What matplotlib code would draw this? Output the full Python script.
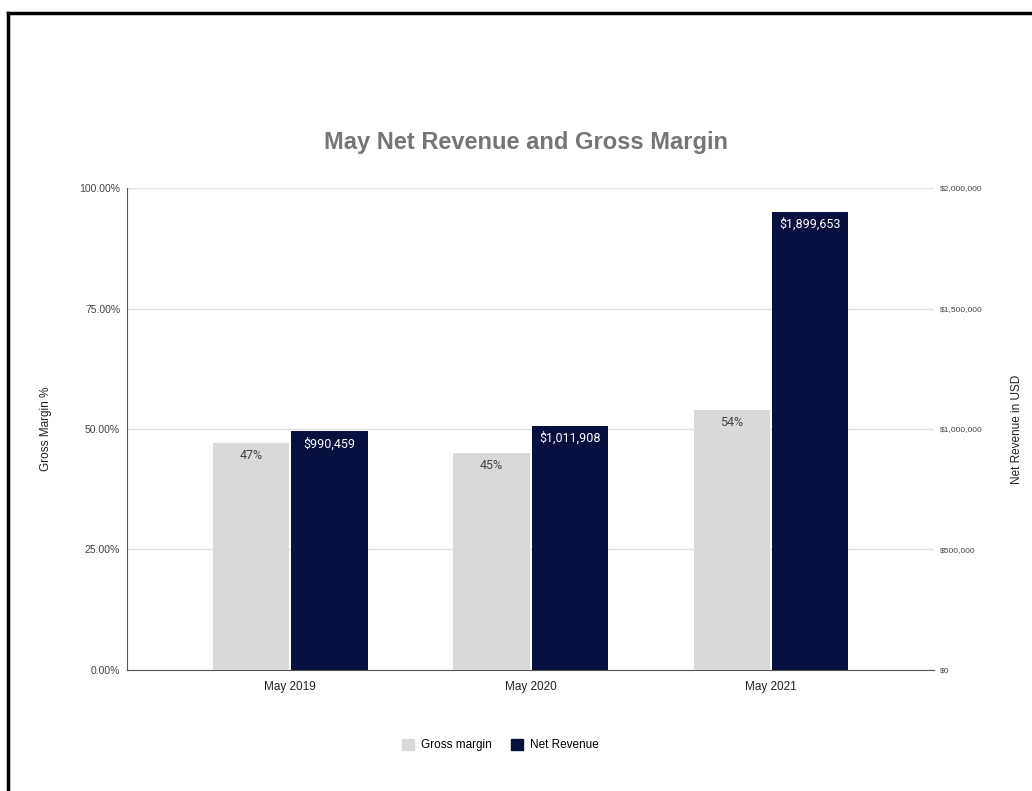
import matplotlib.pyplot as plt
from matplotlib.ticker import FuncFormatter
from matplotlib.patches import Rectangle

plt.rcParams['font.family'] = ['Liberation Sans', 'DejaVu Sans']

months = ["May 2019", "May 2020", "May 2021"]
gross_margin = [0.47, 0.45, 0.54]
net_revenue = [990459, 1011908, 1899653]

gray = '#d9d9d9'
navy = '#08103f'

fig = plt.figure(figsize=(10.32, 7.91), dpi=100)
ax = fig.add_axes([0.1231, 0.1530, 0.7820, 0.6093])
ax2 = ax.twinx()

x = list(range(len(months)))
w = 0.318
off = 0.163

gm_bars = ax.bar([i - off for i in x], gross_margin, width=w, color=gray, zorder=3, label='Gross margin')
nr_bars = ax2.bar([i + off for i in x], net_revenue, width=w, color=navy, zorder=3, label='Net Revenue')

ax.set_xlim(-0.678, 2.678)
ax.set_ylim(0, 1)
ax2.set_ylim(0, 2000000)
ax.set_yticks([0, 0.25, 0.5, 0.75, 1.0])
ax2.set_yticks([0, 500000, 1000000, 1500000, 2000000])
ax.yaxis.set_major_formatter(FuncFormatter(lambda v, p: f"{v*100:.2f}%"))
ax2.yaxis.set_major_formatter(FuncFormatter(lambda v, p: f"${v:,.0f}"))

ax.grid(axis='y', color='#e0e0e0', linewidth=1, zorder=0)
ax.set_axisbelow(True)
ax.set_xticks(x)
ax.set_xticklabels(months, fontsize=8.5, color='#222222')
ax.tick_params(axis='x', length=0, pad=8)
ax.tick_params(axis='y', length=0, labelsize=7.5, labelcolor='#444444', pad=5)
ax2.tick_params(axis='y', length=0, labelsize=6, labelcolor='#444444', pad=4)

for s in ['top', 'right']:
    ax.spines[s].set_visible(False)
for s in ['top', 'right', 'left', 'bottom']:
    ax2.spines[s].set_visible(False)
ax.spines['left'].set_color('#555555')
ax.spines['bottom'].set_color('#555555')

ax.set_ylabel('Gross Margin %', fontsize=8.5, color='#222222')
ax2.set_ylabel('Net Revenue in USD', fontsize=8.5, color='#222222')
ax.yaxis.set_label_coords(-0.093, 0.5)
ax2.yaxis.set_label_coords(1.095, 0.5)

for b, v in zip(gm_bars, gross_margin):
    ax.text(b.get_x() + b.get_width() / 2, v - 0.012, f"{v*100:.0f}%", ha='center', va='top',
            fontsize=9, color='#444444', family=['Roboto', 'DejaVu Sans'], zorder=4)
for b, v in zip(nr_bars, net_revenue):
    ax2.text(b.get_x() + b.get_width() / 2, v - 24000, f"${v:,.0f}", ha='center', va='top',
             fontsize=9, color='white', family=['Roboto', 'DejaVu Sans'], zorder=4)

fig.text(0.51, 0.82, 'May Net Revenue and Gross Margin', ha='center', va='center',
         fontsize=17, fontweight='bold', color='#757575')

handles = [Rectangle((0, 0), 1, 1, color=gray), Rectangle((0, 0), 1, 1, color=navy)]
fig.legend(handles, ['Gross margin', 'Net Revenue'], loc='center', bbox_to_anchor=(0.485, 0.058),
           ncol=2, frameon=False, fontsize=8.5, handlelength=1.0, handleheight=1.0,
           handletextpad=0.6, columnspacing=1.6)

# black frame on top and left like the screenshot
fig.add_artist(plt.Line2D([0.0078, 1.0], [0.9840, 0.9840], color='black', linewidth=2.5, transform=fig.transFigure))
fig.add_artist(plt.Line2D([0.0078, 0.0078], [0.0, 0.9840], color='black', linewidth=2.5, transform=fig.transFigure))

fig.savefig('out.png', dpi=100)
